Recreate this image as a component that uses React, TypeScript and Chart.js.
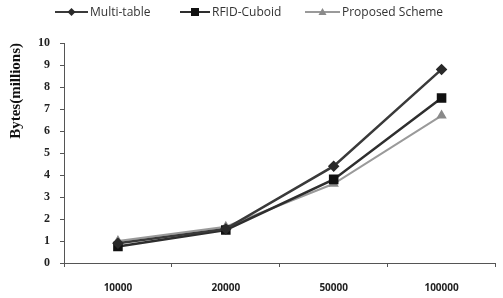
import React, { useEffect, useRef } from "react";
import { Chart, registerables } from "chart.js";

Chart.register(...registerables);

const categories = ["10000", "20000", "50000", "100000"];
const multiTable = [0.9, 1.55, 4.4, 8.8];
const rfidCuboid = [0.75, 1.5, 3.8, 7.5];
const proposed = [1.0, 1.65, 3.6, 6.7];
const seriesNames = ["Multi-table", "RFID-Cuboid", "Proposed Scheme"];

const legendPlugin = {
  id: "customLegend",
  afterDraw(chart: any) {
    const ctx = chart.ctx;
    const items = [
      { x: 55, lineEnd: 88, textX: 90 },
      { x: 180, lineEnd: 210, textX: 212 },
      { x: 305, lineEnd: 340, textX: 342 },
    ];
    const y = 12;
    ctx.save();
    chart.data.datasets.forEach((ds: any, i: number) => {
      const it = items[i];
      ctx.strokeStyle = ds.borderColor;
      ctx.lineWidth = 2;
      ctx.beginPath();
      ctx.moveTo(it.x, y);
      ctx.lineTo(it.lineEnd, y);
      ctx.stroke();
      const cx = (it.x + it.lineEnd) / 2;
      ctx.fillStyle = ds.pointBackgroundColor;
      ctx.beginPath();
      const r = 4;
      if (ds.pointStyle === "rectRot") {
        ctx.moveTo(cx, y - r);
        ctx.lineTo(cx + r, y);
        ctx.lineTo(cx, y + r);
        ctx.lineTo(cx - r, y);
      } else if (ds.pointStyle === "rect") {
        ctx.rect(cx - r, y - r, 2 * r, 2 * r);
      } else {
        ctx.moveTo(cx, y - r);
        ctx.lineTo(cx + r, y + r - 1);
        ctx.lineTo(cx - r, y + r - 1);
      }
      ctx.closePath();
      ctx.fill();
      ctx.fillStyle = "#333";
      ctx.font = "12px 'Open Sans'";
      ctx.textBaseline = "middle";
      ctx.textAlign = "left";
      ctx.fillText(ds.label, it.textX, y + 1);
    });
    ctx.restore();
  },
};

export default function App() {
  const ref = useRef<HTMLCanvasElement>(null);
  useEffect(() => {
    document.body.style.margin = "0";
    const chart = new Chart(ref.current!, {
      type: "line",
      data: {
        labels: categories,
        datasets: [
          {
            label: seriesNames[0],
            data: multiTable,
            borderColor: "#3a3a3a",
            backgroundColor: "#2a2a2a",
            pointBackgroundColor: "#2a2a2a",
            pointBorderColor: "#2a2a2a",
            pointStyle: "rectRot",
            pointRadius: 4,
            borderWidth: 2.5,
          },
          {
            label: seriesNames[1],
            data: rfidCuboid,
            borderColor: "#2e2e2e",
            backgroundColor: "#111",
            pointBackgroundColor: "#111",
            pointBorderColor: "#111",
            pointStyle: "rect",
            pointRadius: 5,
            borderWidth: 2.5,
          },
          {
            label: seriesNames[2],
            data: proposed,
            borderColor: "#9a9a9a",
            backgroundColor: "#8a8a8a",
            pointBackgroundColor: "#8a8a8a",
            pointBorderColor: "#8a8a8a",
            pointStyle: "triangle",
            pointRadius: 4,
            borderWidth: 2,
          },
        ],
      },
      options: {
        animation: false,
        responsive: false,
        maintainAspectRatio: false,
        layout: { padding: { top: 43, right: 2, left: 0, bottom: 0 } },
        plugins: {
          legend: { display: false },
          tooltip: { enabled: false },
        },
        scales: {
          x: {
            offset: true,
            border: { color: "#555", dash: [1, 2], width: 1 },
            grid: { drawOnChartArea: false, drawTicks: true, tickLength: 4, offset: true, color: "#555" },
            ticks: {
              color: "#222",
              font: { family: "'Open Sans'", size: 10, weight: "bold" },
              padding: 15,
              maxRotation: 0,
            },
            afterFit(scale: any) {
              scale.height = 35;
            },
          },
          y: {
            min: 0,
            max: 10,
            border: { color: "#555", dash: [1, 2], width: 1 },
            grid: { drawOnChartArea: false, drawTicks: true, tickLength: 4, color: "#555" },
            ticks: {
              stepSize: 1,
              color: "#222",
              font: { family: "'Liberation Serif'", size: 12, weight: "bold" },
              padding: 10,
            },
            title: {
              display: true,
              text: "Bytes(millions)",
              align: "end",
              color: "#111",
              font: { family: "'Liberation Serif'", size: 15, weight: "bold" },
              padding: { top: 7, bottom: 0 },
            },
            afterFit(scale: any) {
              scale.width = 64;
            },
          },
        },
      },
      plugins: [legendPlugin],
    });
    return () => chart.destroy();
  }, []);
  return <canvas ref={ref} width={503} height={298} style={{ display: "block" }} />;
}
